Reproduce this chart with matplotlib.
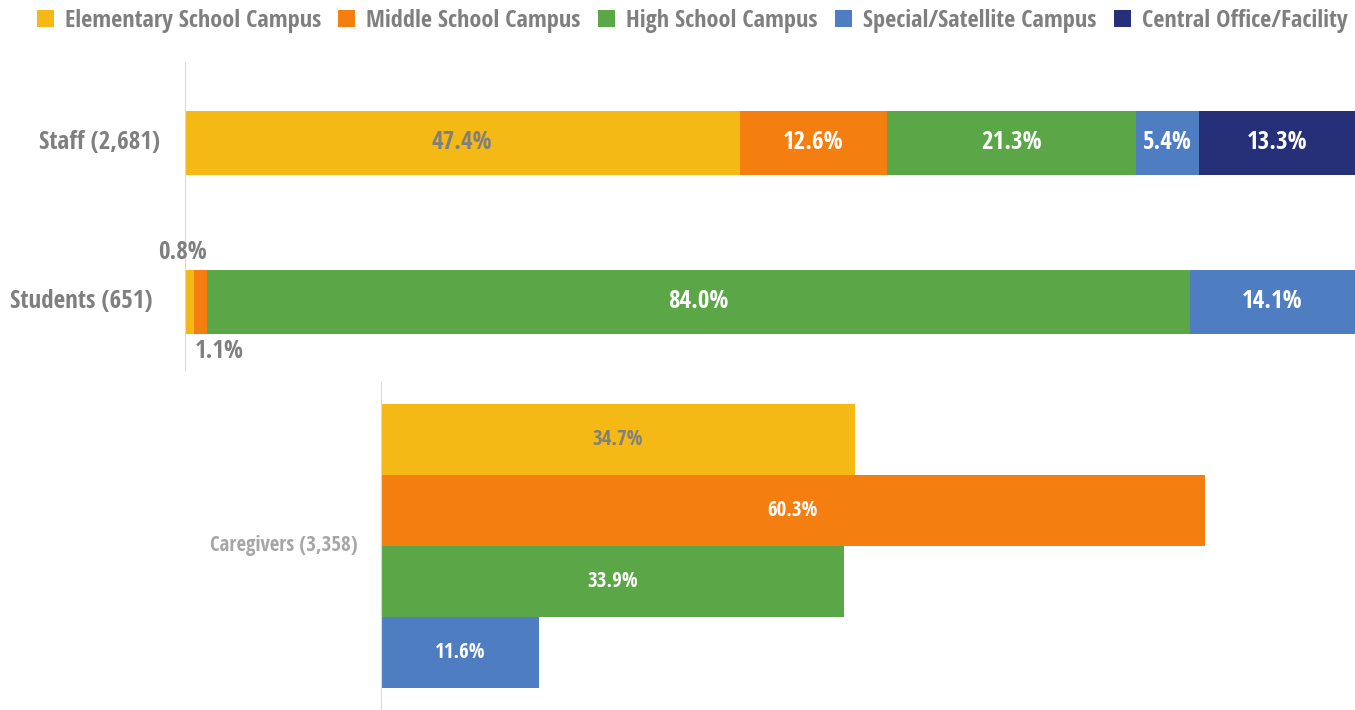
import matplotlib
matplotlib.use("Agg")
import matplotlib.pyplot as plt
from matplotlib import font_manager as fm
from matplotlib.patches import Patch
from matplotlib.transforms import ScaledTranslation

# ---- font choice: a bold condensed sans (reference looks like Open Sans Condensed Bold)
_ents = fm.fontManager.ttflist
_pref = ['Open Sans Condensed', 'Open Sans', 'Noto Sans Condensed', 'Noto Sans',
         'Encode Sans Condensed', 'Asap Condensed', 'Barlow Semi Condensed']
FONTPROPS = None
for p in _pref:
    for f in _ents:
        if f.name == p and f.style == 'normal' and f.weight in (700, 'bold') and \
                ('ondensed' in str(f.stretch) or 'Condensed' in f.name):
            FONTPROPS = f.fname
            break
    if FONTPROPS:
        break

def fp(size):
    if FONTPROPS:
        return fm.FontProperties(fname=FONTPROPS, size=size)
    return fm.FontProperties(family='DejaVu Sans', weight='bold', stretch='condensed', size=size)

series = ["Elementary School Campus", "Middle School Campus", "High School Campus",
          "Special/Satellite Campus", "Central Office/Facility"]
colors = ["#F4B914", "#F57E11", "#5BA646", "#4E7EC1", "#263079"]
top_groups = ["Staff (2,681)", "Students (651)"]
staff = [47.4, 12.6, 21.3, 5.4, 13.3]
students = [0.8, 1.1, 84.0, 14.1, 0.0]
care_group = "Caregivers (3,358)"
caregivers = [34.7, 60.3, 33.9, 11.6]

GRAY = "#7F7F7F"
LGRAY = "#A6A6A6"
DPI = 100
fig = plt.figure(figsize=(13.55, 7.10), dpi=DPI)
W, H = 1355, 710

def ax_at(l, t, r, b):
    return fig.add_axes([l / W, 1 - b / H, (r - l) / W, (b - t) / H])

def px_offset(dx):
    return ScaledTranslation(dx / DPI, 0, fig.dpi_scale_trans)

TOP = 18
ax1 = ax_at(185, 62, 1355, 370)
ypos = [1, 0]
data = [staff, students]
for yi, vals in zip(ypos, data):
    left = 0
    for i, v in enumerate(vals):
        if v <= 0:
            continue
        ax1.barh(yi, v, left=left, height=0.40, color=colors[i], edgecolor='none')
        if v >= 3:
            tc = GRAY if i == 0 else 'white'
            ax1.text(left + v / 2, yi, f"{v:.1f}%", ha='center', va='center',
                     color=tc, fontproperties=fp(TOP))
        left += v
# small student labels (outside the thin segments)
ax1.text(-0.25, 0 + 0.31, f"{students[0]:.1f}%", ha='center', va='center',
         color=GRAY, fontproperties=fp(TOP))
ax1.text(2.9, 0 - 0.31, f"{students[1]:.1f}%", ha='center', va='center',
         color=GRAY, fontproperties=fp(TOP))
ax1.set_xlim(0, 100)
ax1.set_ylim(-0.428, 1.509)
ax1.set_yticks([])
# category labels (right edges as in the reference)
for yi, lab, dx in zip(ypos, top_groups, [-25, -33]):
    ax1.text(0, yi, lab, ha='right', va='center', color=GRAY, fontproperties=fp(TOP),
             transform=ax1.get_yaxis_transform() + px_offset(dx))
ax1.set_xticks([])
for s in ['top', 'right', 'bottom']:
    ax1.spines[s].set_visible(False)
ax1.spines['left'].set_color('#D9D9D9')

BOT = 15
ax2 = ax_at(381, 382, 1355, 710)
w = 0.2
for i, v in enumerate(caregivers):
    y = (i - 1.5) * w
    ax2.barh(y, v, height=w, color=colors[i], edgecolor='none')
    tc = GRAY if i == 0 else 'white'
    ax2.text(v / 2, y, f"{v:.1f}%", ha='center', va='center', color=tc,
             fontproperties=fp(BOT))
ax2.set_xlim(0, 71.3)
ax2.set_ylim(0.4635, -0.4635)
ax2.set_yticks([])
ax2.text(0, 0, care_group, ha='right', va='center', color=LGRAY, fontproperties=fp(BOT),
         transform=ax2.get_yaxis_transform() + px_offset(-23))
ax2.set_xticks([])
for s in ['top', 'right', 'bottom']:
    ax2.spines[s].set_visible(False)
ax2.spines['left'].set_color('#D9D9D9')

handles = [Patch(facecolor=c, edgecolor='none') for c in colors]
fig.legend(handles, series, loc='center', bbox_to_anchor=(692 / W, 1 - 21 / H), ncol=5,
           frameon=False, prop=fp(17.5), borderaxespad=0, borderpad=0,
           labelcolor=GRAY, handlelength=0.7, handleheight=0.7, handletextpad=0.45,
           columnspacing=0.72)

fig.savefig("out.png", dpi=DPI)
